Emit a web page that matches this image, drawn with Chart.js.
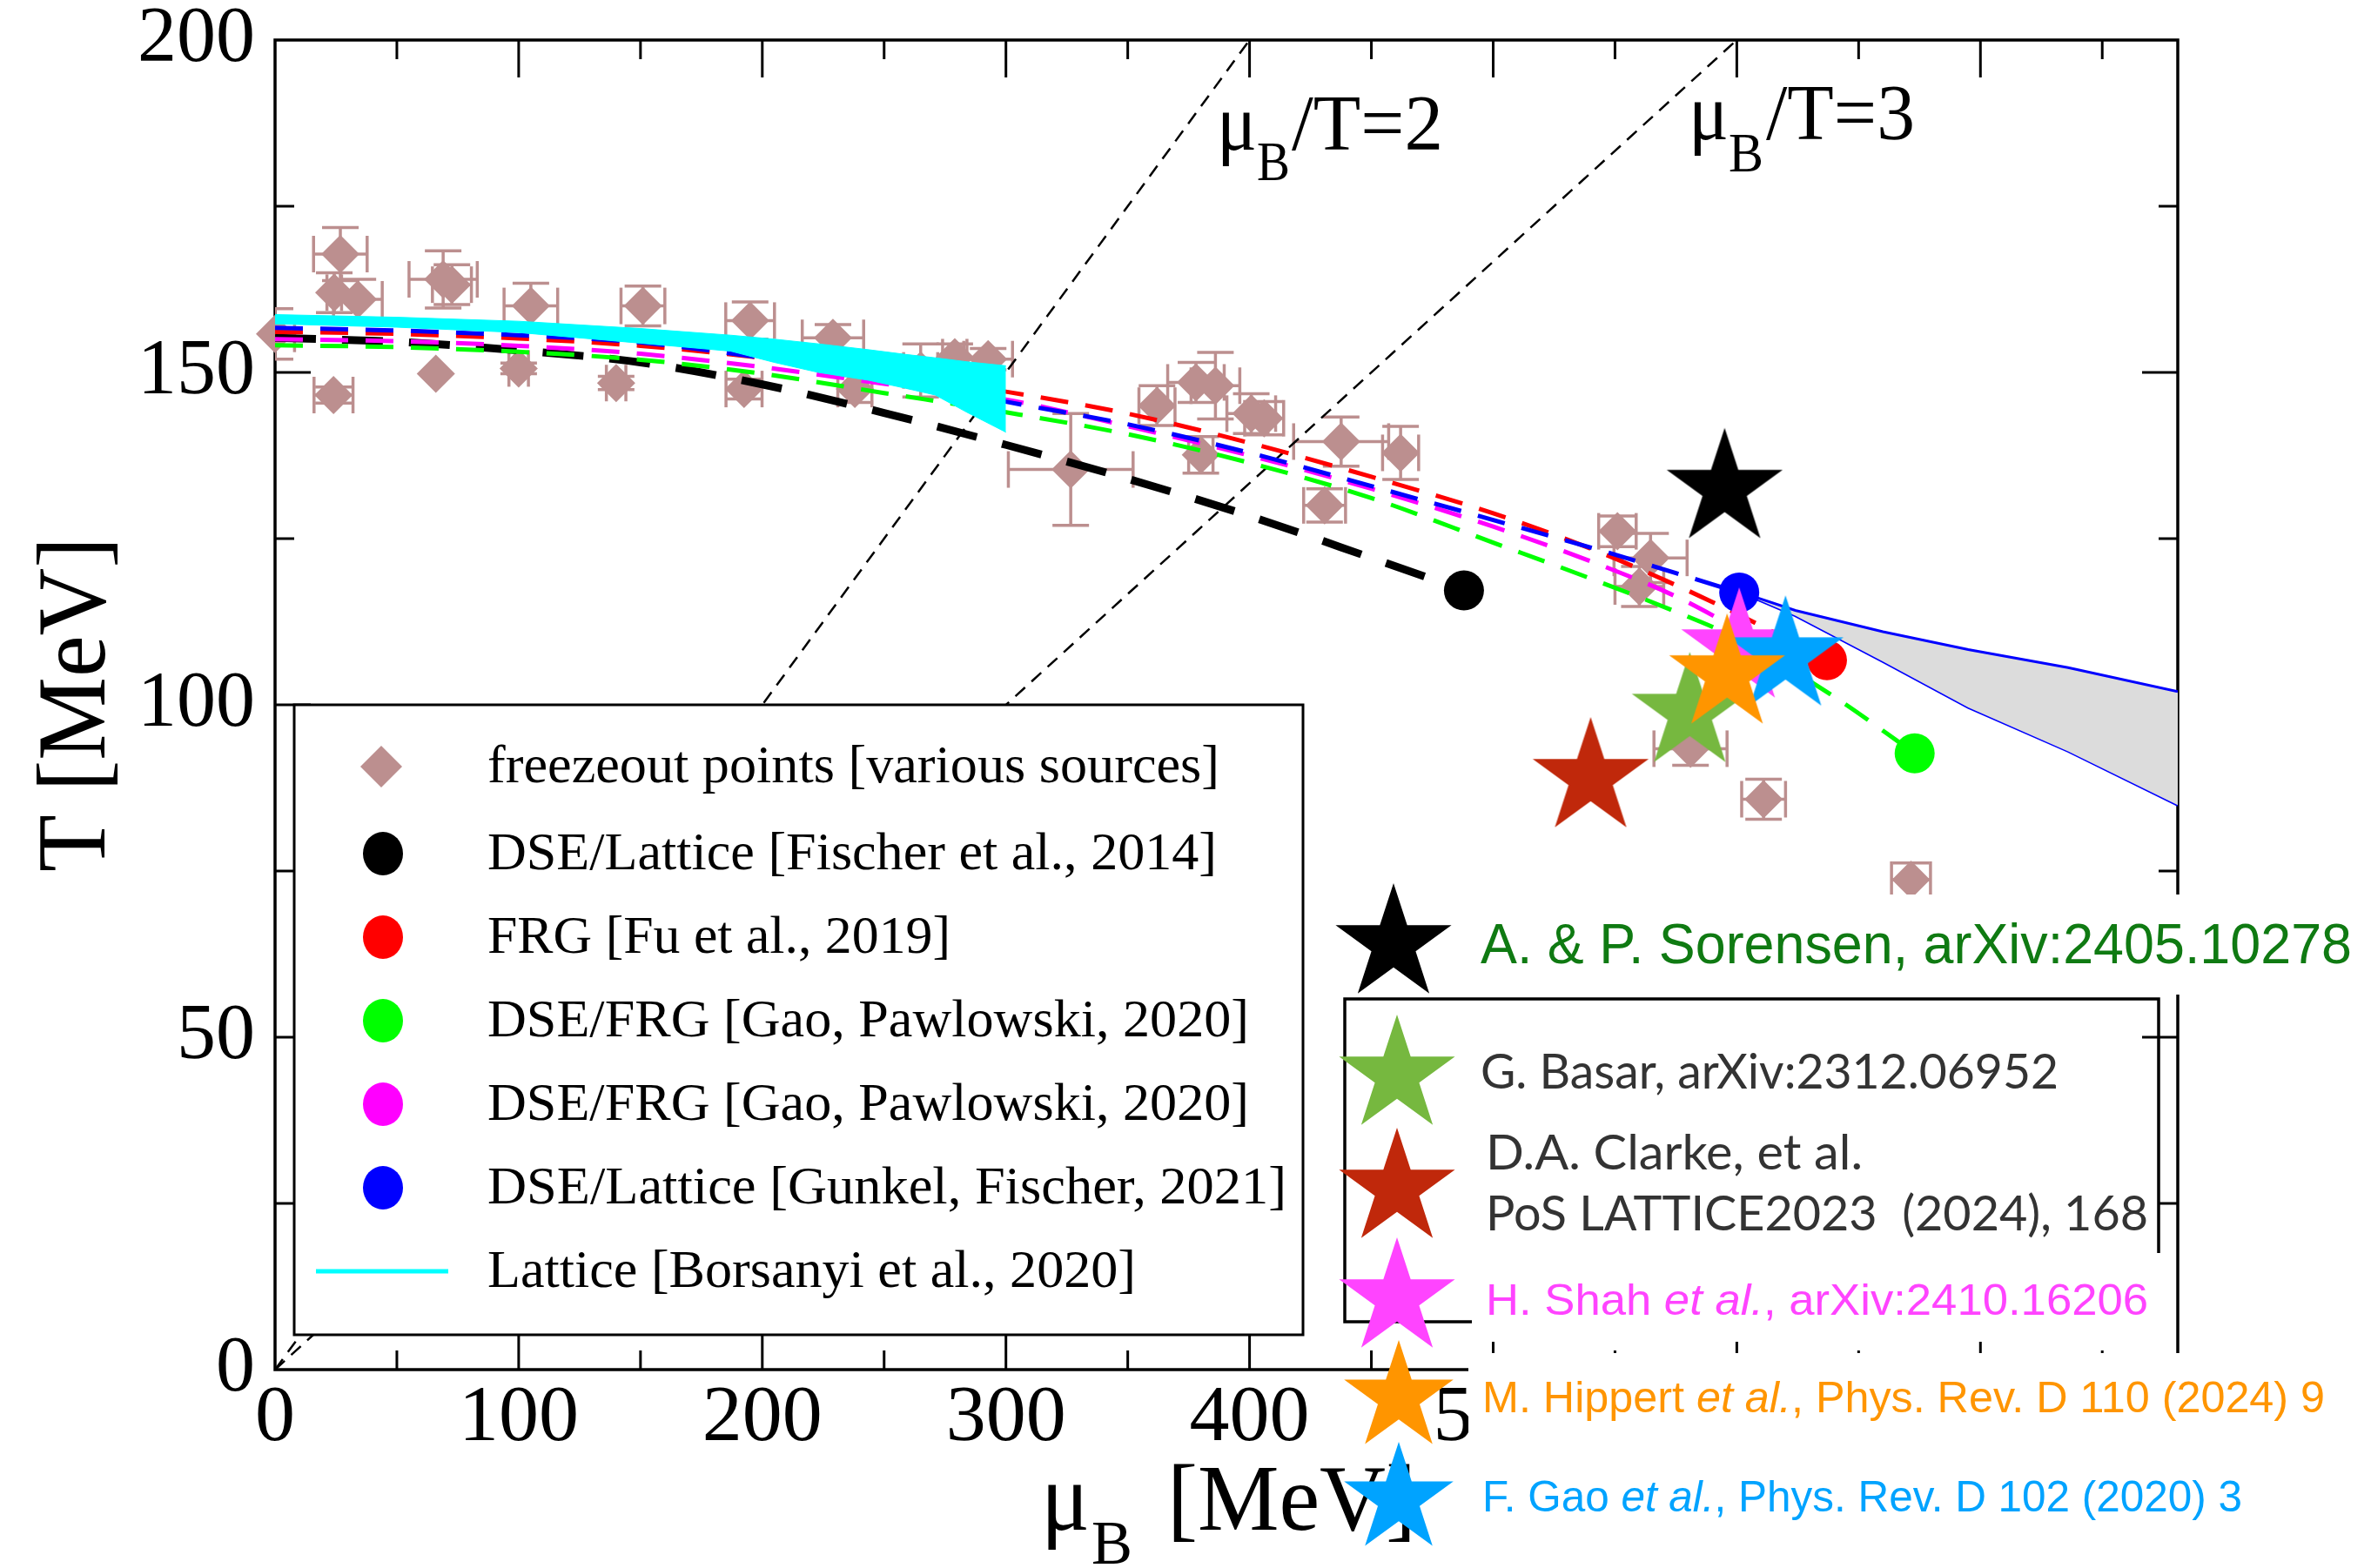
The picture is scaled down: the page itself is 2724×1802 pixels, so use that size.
<!DOCTYPE html>
<html>
<head>
<meta charset="utf-8">
<script src="https://cdn.jsdelivr.net/npm/chart.js@4.4.1/dist/chart.umd.min.js"></script>
<style>
  html, body { margin: 0; padding: 0; background: #ffffff; }
  #wrap { width: 2724px; height: 1802px; }
</style>
</head>
<body>
<div id="wrap"><canvas id="c" width="2724" height="1802"></canvas></div>
<script>
// ------------------------------------------------------------------
// DATA
// ------------------------------------------------------------------
// freeze-out points [various sources]
const freezeMu    = [0, 26.8, 24.3, 34, 24, 69, 72.6, 66, 105, 100, 151, 140, 195, 192.5, 229, 238, 265, 279, 292.7, 326.6, 362, 378, 386, 400.7, 406, 380, 437.6, 430.8, 462, 551, 564.6, 560, 581, 611, 671.5];
const freezeT     = [155.8, 167.8, 162, 161, 146.6, 164, 163.2, 149.8, 160, 150.6, 160, 148.4, 157.8, 147.5, 155.2, 147.5, 150.3, 152.3, 152, 135.4, 145, 148.5, 148, 143.8, 143.1, 137.6, 139.6, 130, 137.9, 126.1, 122.1, 117.8, 93.4, 85.8, 73.7];
const freezeMuErr = [8, 11, 3, 10, 8, 14, 8, 0, 11, 4, 9, 4, 10, 7.4, 12.6, 7, 7, 5, 10, 25.6, 7.4, 11.6, 10, 10, 8, 5, 19.5, 8.6, 7.4, 7.7, 15, 10, 15, 9, 8];
const freezeTErr  = [3.8, 4, 3, 3, 1.2, 4.3, 3, 0, 3.4, 0.8, 3, 1, 2.8, 1.5, 2, 2, 4, 2, 1.6, 8.4, 3, 3, 5, 3, 2.5, 2.75, 3.7, 2.5, 4, 2.3, 3.7, 3, 2.5, 3, 2.5];

// DSE/Lattice [Fischer et al., 2014]
const fischerMu = [0, 50, 100, 150, 200, 250, 300, 350, 400, 450, 488];
const fischerT  = [155.2, 154.6, 153.3, 151.5, 148.2, 143.9, 139.1, 134.0, 128.4, 122.1, 117.2];
// FRG [Fu et al., 2019]
const fuMu = [0, 50, 100, 150, 200, 250, 300, 350, 400, 450, 500, 540, 575, 605, 637];
const fuT  = [156.1, 155.8, 155.1, 154.0, 152.2, 149.8, 147.1, 143.8, 139.4, 134.3, 128.8, 123.5, 118.0, 112.8, 106.7];
// DSE/FRG [Gao, Pawlowski, 2020] (green)
const gaoGreenMu = [0, 50, 100, 150, 200, 250, 300, 350, 400, 450, 500, 540, 575, 600, 640, 673];
const gaoGreenT  = [154.1, 153.8, 153.1, 151.9, 149.8, 146.9, 144.0, 140.7, 136.4, 131.1, 124.4, 119.0, 114.0, 110.0, 101.2, 92.7];
// DSE/FRG [Gao, Pawlowski, 2020] (magenta)
const gaoMagMu = [0, 50, 100, 150, 200, 250, 300, 350, 400, 450, 500, 540, 575, 600];
const gaoMagT  = [155.0, 154.7, 154.0, 152.8, 150.8, 148.3, 145.9, 141.9, 137.5, 132.5, 126.8, 121.6, 116.3, 111.5];
// DSE/Lattice [Gunkel, Fischer, 2021]
const gunkelMu = [0, 50, 100, 150, 200, 250, 300, 350, 400, 450, 500, 550, 575, 601];
const gunkelT  = [156.7, 156.3, 155.6, 154.5, 152.2, 149.4, 145.6, 142.2, 137.9, 132.9, 127.8, 122.6, 119.8, 116.9];
// Lattice [Borsanyi et al., 2020] band
const latticeMu    = [0, 50, 100, 150, 187, 205, 223, 244, 259, 271, 284, 300];
const latticeUpper = [158.7, 158.3, 157.7, 156.6, 155.6, 155.0, 154.3, 153.4, 152.7, 152.2, 151.6, 151.0];
const latticeLower = [157.3, 156.8, 156.0, 154.4, 153.2, 151.5, 150.0, 148.8, 147.6, 146.6, 144.0, 141.0];
// Gunkel/Fischer extrapolation band (grey)
const bandMu    = [601, 624, 660, 695, 736, 781];
const bandUpper = [117, 114.2, 111, 108.3, 105.6, 102];
const bandLower = [117, 113.4, 106.5, 99.6, 93, 84.9];
// end points of the curves
const endMu     = [488, 601, 637, 673];
const endT      = [117.2, 116.9, 106.7, 92.7];
const endColors = ['#000000', '#0000ff', '#ff0000', '#00ff00'];
// stars: Sorensen, Clarke, Basar, Shah, Gao, Hippert (bottom -> top)
const starMu     = [595, 540, 580.7, 601, 620, 596];
const starT      = [132.5, 89, 98.8, 108.5, 107.3, 104.6];
const starColors = ['#000000', '#c0280b', '#76b83f', '#ff44ff', '#00a3ff', '#ff9500'];
// mu_B / T = const lines
const ratio2Mu = [0, 400], ratio2T = [0, 200];
const ratio3Mu = [0, 600], ratio3T = [0, 200];
// axes
const xTickLabels = [0, 100, 200, 300, 400, 500, 600, 700];
const yTickLabels = [0, 50, 100, 150, 200];
const xMajorTicks = [100, 200, 300, 400, 500, 600, 700];
const xMinorTicks = [50, 150, 250, 350, 450, 550, 650, 750];
const yMajorTicks = [50, 100, 150];
const yMinorTicks = [25, 75, 125, 175];
const X_MAX = 781, Y_MAX = 200;

// legends
const legend1Labels = [
  'freezeout points [various sources]',
  'DSE/Lattice [Fischer et al., 2014]',
  'FRG [Fu et al., 2019]',
  'DSE/FRG [Gao, Pawlowski, 2020]',
  'DSE/FRG [Gao, Pawlowski, 2020]',
  'DSE/Lattice [Gunkel, Fischer, 2021]',
  'Lattice [Borsanyi et al., 2020]'
];
const legend1Colors = ['#bc8f8f', '#000000', '#ff0000', '#00ff00', '#ff00ff', '#0000ff', '#00ffff'];

// ------------------------------------------------------------------
const pts = (xs, ys) => xs.map((x, i) => ({ x: x, y: ys[i] }));
const ROSY = '#bc8f8f';

function starPath(ctx, cx, cy, R, r) {
  ctx.beginPath();
  for (let i = 0; i < 10; i++) {
    const rad = (i % 2 === 0) ? R : r;
    const a = -Math.PI / 2 + i * Math.PI / 5;
    const px = cx + rad * Math.cos(a), py = cy + rad * Math.sin(a);
    if (i === 0) ctx.moveTo(px, py); else ctx.lineTo(px, py);
  }
  ctx.closePath();
}
function makeStar(color, R) {
  const c = document.createElement('canvas');
  const s = Math.ceil(2 * R + 4);
  c.width = s; c.height = s;
  const g = c.getContext('2d');
  g.fillStyle = color;
  starPath(g, s / 2, s / 2, R, R * 0.382);
  g.fill();
  return c;
}
const starImages = starColors.map(c => makeStar(c, 70));

function fitText(ctx, text, x, y, width, font, color) {
  ctx.save();
  ctx.font = font;
  ctx.fillStyle = color;
  ctx.textAlign = 'left';
  ctx.textBaseline = 'alphabetic';
  const w = ctx.measureText(text).width;
  ctx.translate(x, y);
  ctx.scale(width / w, 1);
  ctx.fillText(text, 0, 0);
  ctx.restore();
}
function fitSegments(ctx, segs, x, y, width, size, family, color) {
  ctx.save();
  const ws = [];
  let total = 0;
  segs.forEach(([t, it]) => {
    ctx.font = (it ? 'italic ' : '') + size + 'px "' + family + '"';
    const w = ctx.measureText(t).width; ws.push(w); total += w;
  });
  ctx.translate(x, y);
  ctx.scale(width / total, 1);
  ctx.fillStyle = color;
  ctx.textBaseline = 'alphabetic';
  let cx = 0;
  segs.forEach(([t, it], i) => {
    ctx.font = (it ? 'italic ' : '') + size + 'px "' + family + '"';
    ctx.fillText(t, cx, 0);
    cx += ws[i];
  });
  ctx.restore();
}

const overlayPlugin = {
  id: 'overlay',
  beforeDatasetsDraw(chart) {
    const ctx = chart.ctx, a = chart.chartArea;
    const xs = chart.scales.x, ys = chart.scales.y;
    ctx.save();
    // frame
    ctx.strokeStyle = '#000'; ctx.lineWidth = 3.5;
    ctx.strokeRect(a.left, a.top, a.right - a.left, a.bottom - a.top);
    ctx.lineWidth = 3;
    const seg = (x1, y1, x2, y2) => { ctx.beginPath(); ctx.moveTo(x1, y1); ctx.lineTo(x2, y2); ctx.stroke(); };
    xMajorTicks.forEach(v => { const p = xs.getPixelForValue(v); seg(p, a.bottom, p, a.bottom - 43); seg(p, a.top, p, a.top + 43); });
    xMinorTicks.forEach(v => { const p = xs.getPixelForValue(v); seg(p, a.bottom, p, a.bottom - 22); seg(p, a.top, p, a.top + 22); });
    yMajorTicks.forEach(v => { const p = ys.getPixelForValue(v); seg(a.left, p, a.left + 41, p); seg(a.right, p, a.right - 41, p); });
    yMinorTicks.forEach(v => { const p = ys.getPixelForValue(v); seg(a.left, p, a.left + 22, p); seg(a.right, p, a.right - 22, p); });
    // error bars of freeze-out points
    ctx.beginPath(); ctx.rect(a.left, a.top, a.right - a.left, a.bottom - a.top); ctx.clip();
    ctx.strokeStyle = ROSY; ctx.lineWidth = 3.5;
    const cap = 21;
    freezeMu.forEach((m, i) => {
      const px = xs.getPixelForValue(m), py = ys.getPixelForValue(freezeT[i]);
      if (freezeMuErr[i] > 0) {
        const x1 = xs.getPixelForValue(m - freezeMuErr[i]), x2 = xs.getPixelForValue(m + freezeMuErr[i]);
        seg(x1, py, x2, py); seg(x1, py - cap, x1, py + cap); seg(x2, py - cap, x2, py + cap);
      }
      if (freezeTErr[i] > 0) {
        const y1 = ys.getPixelForValue(freezeT[i] - freezeTErr[i]), y2 = ys.getPixelForValue(freezeT[i] + freezeTErr[i]);
        seg(px, y1, px, y2); seg(px - cap, y1, px + cap, y1); seg(px - cap, y2, px + cap, y2);
      }
    });
    ctx.restore();
  },
  afterDraw(chart) {
    const ctx = chart.ctx;
    ctx.save();
    // ---- axis titles ----
    ctx.save();
    ctx.translate(120, 810);
    ctx.rotate(-Math.PI / 2);
    fitText(ctx, 'T [MeV]', -192, 0, 385, '112px "Liberation Serif"', '#000');
    ctx.restore();
    fitText(ctx, '\u03bc', 1196, 1758, 56, '110px "Liberation Serif"', '#000');
    fitText(ctx, 'B', 1254, 1797, 47, '72px "Liberation Serif"', '#000');
    fitText(ctx, '[MeV]', 1341, 1758, 286, '108px "Liberation Serif"', '#000');
    // ratio labels
    fitText(ctx, '\u03bc', 1398, 172, 46, '91px "Liberation Serif"', '#000');
    fitText(ctx, 'B', 1444, 207, 38, '63px "Liberation Serif"', '#000');
    fitText(ctx, '/T=2', 1484, 172, 174, '91px "Liberation Serif"', '#000');
    fitText(ctx, '\u03bc', 1940, 160, 46, '91px "Liberation Serif"', '#000');
    fitText(ctx, 'B', 1986, 197, 40, '63px "Liberation Serif"', '#000');
    fitText(ctx, '/T=3', 2029, 160, 171, '91px "Liberation Serif"', '#000');

    // ---- legend 1 ----
    ctx.fillStyle = '#fff';
    ctx.fillRect(338, 810, 1159, 724);
    ctx.strokeStyle = '#000'; ctx.lineWidth = 3;
    ctx.strokeRect(338, 810, 1159, 724);
    const rows = [881, 981, 1077, 1173, 1269, 1365, 1461];
    const widths = [841, 838, 532, 875, 875, 918, 745];
    rows.forEach((ry, i) => {
      if (i === 0) {
        ctx.fillStyle = legend1Colors[0];
        ctx.beginPath(); ctx.moveTo(438, ry - 24); ctx.lineTo(462, ry); ctx.lineTo(438, ry + 24); ctx.lineTo(414, ry); ctx.closePath(); ctx.fill();
      } else if (i === 6) {
        ctx.strokeStyle = legend1Colors[6]; ctx.lineWidth = 5;
        ctx.beginPath(); ctx.moveTo(363, ry); ctx.lineTo(515, ry); ctx.stroke();
      } else {
        ctx.fillStyle = legend1Colors[i];
        ctx.beginPath(); ctx.ellipse(440, ry, 23, 25, 0, 0, Math.PI * 2); ctx.fill();
      }
      fitText(ctx, legend1Labels[i], 560, ry + 18, widths[i], '62px "Liberation Serif"', '#000');
    });

    // ---- legend 2 (pasted overlay) ----
    ctx.strokeStyle = '#000'; ctx.lineWidth = 3.5;
    ctx.strokeRect(1545, 1148, 935, 371);
    ctx.fillStyle = '#fff';
    ctx.fillRect(1530, 1028, 1194, 115);
    ctx.fillRect(1691, 1440, 799, 102);
    ctx.fillRect(1687, 1555, 1037, 247);
    const drawStar = (color, cx, cy, R) => { ctx.fillStyle = color; starPath(ctx, cx, cy, R, R * 0.382); ctx.fill(); };
    drawStar('#000000', 1601, 1085, 70);
    drawStar('#76b83f', 1605, 1236, 70);
    drawStar('#c0280b', 1605, 1366, 70);
    drawStar('#ff44ff', 1605, 1492, 70);
    drawStar('#ff9500', 1607, 1606, 66);
    drawStar('#00a3ff', 1607, 1723, 66);
    fitText(ctx, 'A. & P. Sorensen, arXiv:2405.10278', 1701, 1107, 1001, '64px "Liberation Sans"', '#0f7a12');
    fitText(ctx, 'G. Basar, arXiv:2312.06952', 1701, 1251, 664, '57px "Lato"', '#333333');
    fitText(ctx, 'D.A. Clarke, et al.', 1707, 1344, 433, '57px "Lato"', '#333333');
    fitText(ctx, 'PoS LATTICE2023  (2024), 168', 1707, 1414, 761, '57px "Lato"', '#333333');
    fitSegments(ctx, [['H. Shah ', false], ['et al.', true], [', arXiv:2410.16206', false]], 1707, 1511, 761, 50, 'Liberation Sans', '#ff44ff');
    fitSegments(ctx, [['M. Hippert ', false], ['et al.', true], [', Phys. Rev. D 110 (2024) 9', false]], 1703, 1623, 968, 50, 'Liberation Sans', '#ff9500');
    fitSegments(ctx, [['F. Gao ', false], ['et al.', true], [', Phys. Rev. D 102 (2020) 3', false]], 1703, 1737, 873, 50, 'Liberation Sans', '#00a3ff');
    ctx.restore();
  }
};

const lineDs = (label, xs, ys, color, width, dash, order) => ({
  label, data: pts(xs, ys), borderColor: color, borderWidth: width, borderDash: dash,
  pointRadius: 0, showLine: true, fill: false, order, cubicInterpolationMode: 'monotone'
});

const datasets = [
  { label: 'stars', data: pts(starMu, starT), showLine: false, pointStyle: starImages, pointRadius: 70, order: 0, clip: false },
  { label: 'ends', data: pts(endMu, endT), showLine: false, pointStyle: 'circle', pointRadius: 23,
    pointBackgroundColor: endColors, pointBorderWidth: 0, order: 1, clip: false },
  { label: 'bandUp', data: pts(bandMu, bandUpper), borderColor: '#0000ff', borderWidth: 3, pointRadius: 0, showLine: true,
    fill: { target: 3, above: '#dcdcdc', below: '#dcdcdc' }, order: 2 },
  { label: 'bandLo', data: pts(bandMu, bandLower), borderColor: '#0000ff', borderWidth: 3, pointRadius: 0, showLine: true, fill: false, order: 2 },
  { label: 'latUp', data: pts(latticeMu, latticeUpper), borderColor: '#00ffff', borderWidth: 1, pointRadius: 0, showLine: true,
    fill: { target: 5, above: '#00ffff', below: '#00ffff' }, order: 3 },
  { label: 'latLo', data: pts(latticeMu, latticeLower), borderColor: '#00ffff', borderWidth: 1, pointRadius: 0, showLine: true, fill: false, order: 3 },
  lineDs('gunkel', gunkelMu, gunkelT, '#0000ff', 5, [32, 20], 4),
  lineDs('fu', fuMu, fuT, '#ff0000', 5, [32, 20], 5),
  lineDs('gaoMag', gaoMagMu, gaoMagT, '#ff00ff', 5, [32, 20], 6),
  lineDs('gaoGreen', gaoGreenMu, gaoGreenT, '#00ff00', 5, [32, 20], 7),
  lineDs('fischer', fischerMu, fischerT, '#000000', 9, [47, 30], 8),
  { label: 'freezeout', data: pts(freezeMu, freezeT), showLine: false, pointStyle: 'rectRot', pointRadius: 22,
    pointBackgroundColor: ROSY, pointBorderWidth: 0, order: 9, clip: false },
  { label: 'r2', data: pts(ratio2Mu, ratio2T), borderColor: '#000', borderWidth: 2.5, borderDash: [15, 10], pointRadius: 0, showLine: true, fill: false, order: 10 },
  { label: 'r3', data: pts(ratio3Mu, ratio3T), borderColor: '#000', borderWidth: 2.5, borderDash: [15, 10], pointRadius: 0, showLine: true, fill: false, order: 10 }
];

Chart.defaults.font.family = '"Liberation Serif"';
new Chart(document.getElementById('c'), {
  type: 'line',
  data: { datasets },
  options: {
    responsive: false,
    devicePixelRatio: 1,
    animation: false,
    events: [],
    layout: { autoPadding: false, padding: { left: 0, top: 46, right: 222, bottom: 0 } },
    plugins: { legend: { display: false }, tooltip: { enabled: false } },
    scales: {
      x: {
        type: 'linear', position: 'bottom', min: 0, max: X_MAX,
        grid: { display: false, drawTicks: false },
        border: { display: false },
        afterBuildTicks: s => { s.ticks = xTickLabels.map(v => ({ value: v })); },
        afterFit: s => { s.height = 228; s.paddingLeft = 0; s.paddingRight = 0; },
        ticks: { color: '#000', font: { size: 92, family: '"Liberation Serif"', lineHeight: 1.2 }, padding: 2,
                 maxRotation: 0, minRotation: 0, autoSkip: false }
      },
      y: {
        type: 'linear', position: 'left', min: 0, max: Y_MAX,
        grid: { display: false, drawTicks: false },
        border: { display: false },
        afterBuildTicks: s => { s.ticks = yTickLabels.map(v => ({ value: v })); },
        afterFit: s => { s.width = 316; s.paddingTop = 0; s.paddingBottom = 0; },
        ticks: { color: '#000', font: { size: 90, family: '"Liberation Serif"' }, padding: 23, autoSkip: false }
      }
    }
  },
  plugins: [overlayPlugin]
});
</script>
</body>
</html>
